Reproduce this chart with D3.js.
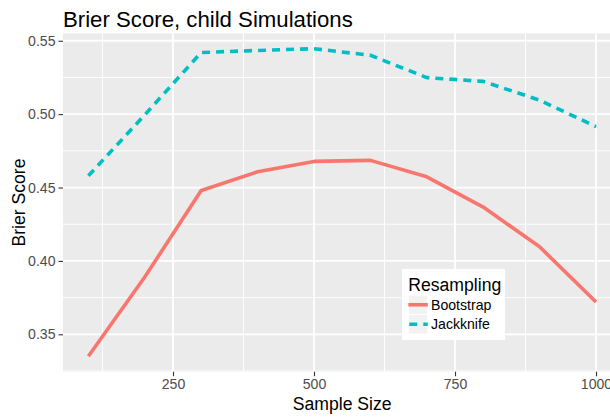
<!DOCTYPE html>
<html><head><meta charset="utf-8">
<script src="https://cdn.jsdelivr.net/npm/d3@7"></script>
<style>html,body{margin:0;padding:0;background:#fff;overflow:hidden}svg{display:block}</style>
</head><body>
<script>
const sampleSizes = [100,200,300,400,500,600,700,800,900,1000];
const bootstrap = [0.335,0.389,0.448,0.4607,0.4678,0.4685,0.4573,0.4367,0.4096,0.372];
const jackknife = [0.458,0.4995,0.542,0.5434,0.5446,0.5401,0.5249,0.5223,0.5095,0.4915];
const seriesNames = ["Bootstrap","Jackknife"];
const xTicks = [250,500,750,1000];
const yTicks = [0.35,0.40,0.45,0.50,0.55];
const xMinor = [125,375,625,875];
const yMinor = [0.325,0.375,0.425,0.475,0.525];
const titleText = "Brier Score, child Simulations";

const W=610,H=417;
const P={l:63,t:33.3,r:621.4,b:371.7};
const svg=d3.select("body").append("svg").attr("width",W).attr("height",H);
const font="'Liberation Sans', Arial, sans-serif";

const xr=d3.extent(sampleSizes), xe=(xr[1]-xr[0])*0.05;
const allY=bootstrap.concat(jackknife), yr=d3.extent(allY), ye=(yr[1]-yr[0])*0.05;
const x=d3.scaleLinear().domain([xr[0]-xe,xr[1]+xe]).range([P.l,P.r]);
const y=d3.scaleLinear().domain([yr[0]-ye,yr[1]+ye]).range([P.b,P.t]);

svg.append("rect").attr("x",P.l).attr("y",P.t).attr("width",P.r-P.l).attr("height",P.b-P.t).attr("fill","#EBEBEB");
const g=svg.append("g");
g.selectAll(".xmin").data(xMinor).enter().append("line").attr("x1",d=>x(d)).attr("x2",d=>x(d)).attr("y1",P.t).attr("y2",P.b).attr("stroke","#fff").attr("stroke-width",0.9);
g.selectAll(".ymin").data(yMinor.filter(d=>y(d)<=P.b&&y(d)>=P.t)).enter().append("line").attr("y1",d=>y(d)).attr("y2",d=>y(d)).attr("x1",P.l).attr("x2",P.r).attr("stroke","#fff").attr("stroke-width",0.9);
g.selectAll(".xmaj").data(xTicks).enter().append("line").attr("x1",d=>x(d)).attr("x2",d=>x(d)).attr("y1",P.t).attr("y2",P.b).attr("stroke","#fff").attr("stroke-width",1.8);
g.selectAll(".ymaj").data(yTicks).enter().append("line").attr("y1",d=>y(d)).attr("y2",d=>y(d)).attr("x1",P.l).attr("x2",P.r).attr("stroke","#fff").attr("stroke-width",1.8);

const line=d3.line().x((d,i)=>x(sampleSizes[i])).y(d=>y(d));
svg.append("path").datum(bootstrap).attr("d",line).attr("fill","none").attr("stroke","#F8766D").attr("stroke-width",3.6).attr("stroke-linejoin","round");
svg.append("path").datum(jackknife).attr("d",line).attr("fill","none").attr("stroke","#00BFC4").attr("stroke-width",3.6).attr("stroke-dasharray","8,6").attr("stroke-linejoin","round");

// axes
const xAxis=d3.axisBottom(x).tickValues(xTicks).tickSize(4.5).tickPadding(3).tickFormat(d3.format("d"));
const gx=svg.append("g").attr("transform",`translate(0,${P.b})`).call(xAxis);
const yAxis=d3.axisLeft(y).tickValues(yTicks).tickSize(4.5).tickPadding(3).tickFormat(d3.format(".2f"));
const gy=svg.append("g").attr("transform",`translate(${P.l},0)`).call(yAxis);
[gx,gy].forEach(a=>{a.select(".domain").remove();a.selectAll(".tick line").attr("stroke","#333").attr("stroke-width",1.1);
 a.selectAll(".tick text").attr("fill","#4D4D4D").style("font-family",font).style("font-size","14.1px");});

svg.append("text").attr("x",(P.l+P.r)/2).attr("y",410).attr("text-anchor","middle").style("font-family",font).style("font-size","17.6px").attr("fill","#000").text("Sample Size");
svg.append("text").attr("transform",`translate(25,${(P.t+P.b)/2}) rotate(-90)`).attr("text-anchor","middle").style("font-family",font).style("font-size","17.6px").attr("fill","#000").text("Brier Score");
svg.append("text").attr("x",P.l).attr("y",26.5).style("font-family",font).style("font-size","22.2px").attr("fill","#000").text(titleText);

// legend
const L={x:402,y:269,w:103,h:71};
const lg=svg.append("g");
lg.append("rect").attr("x",L.x).attr("y",L.y).attr("width",L.w).attr("height",L.h).attr("fill","#fff");
lg.append("text").attr("x",408.3).attr("y",290.5).style("font-family",font).style("font-size","17.6px").attr("fill","#000").text("Resampling");
const colors=["#F8766D","#00BFC4"], dashes=[null,"8,6"];
seriesNames.forEach((s,i)=>{
  const ky=295+i*19.5;
  lg.append("rect").attr("x",408.3).attr("y",ky).attr("width",19.5).attr("height",19.5).attr("fill","#F2F2F2").attr("stroke","#fff").attr("stroke-width",1);
  const l=lg.append("line").attr("x1",408.3).attr("x2",427.8).attr("y1",ky+9.75).attr("y2",ky+9.75).attr("stroke",colors[i]).attr("stroke-width",3.6);
  if(dashes[i]) l.attr("stroke-dasharray",dashes[i]).attr("stroke-dashoffset",-1);
  lg.append("text").attr("x",431).attr("y",ky+14.8).style("font-family",font).style("font-size","14.1px").attr("fill","#000").text(s);
});
</script>
</body></html>
